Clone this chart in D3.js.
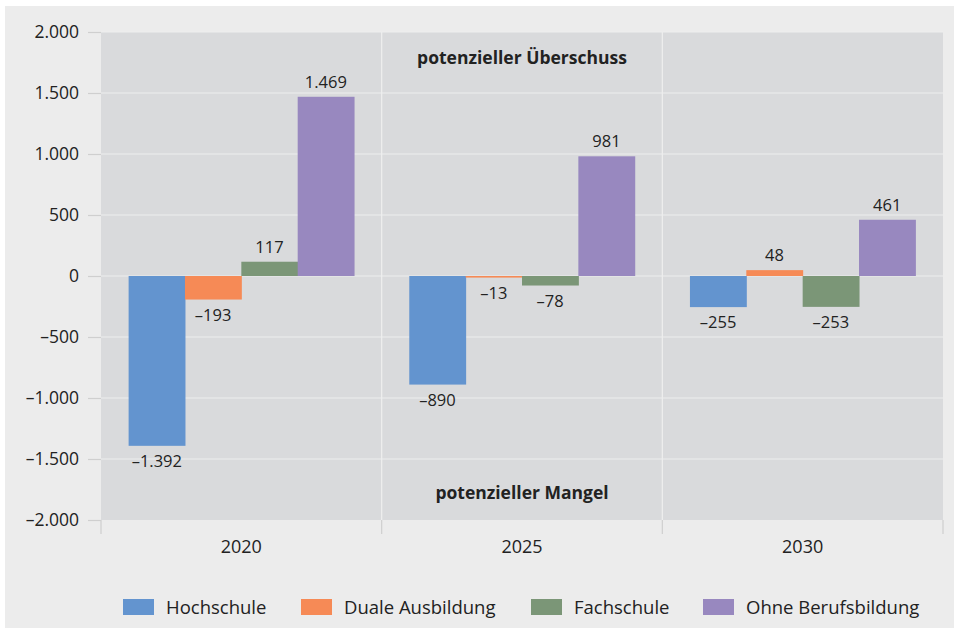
<!DOCTYPE html>
<html>
<head>
  <meta charset="utf-8">
  <script src="https://d3js.org/d3.v7.min.js"></script>
  <style>
    html, body { margin: 0; padding: 0; background: #fff; }
    svg { display: block; font-family: "Open Sans", sans-serif; }
  </style>
</head>
<body>
  <div id="chart"></div>
  <script>
    var years = ["2020", "2025", "2030"];
    var seriesNames = ["Hochschule", "Duale Ausbildung", "Fachschule", "Ohne Berufsbildung"];
    var hochschule = [-1392, -890, -255];
    var dualeAusbildung = [-193, -13, 48];
    var fachschule = [117, -78, -253];
    var ohneBerufsbildung = [1469, 981, 461];
    var yTicks = [-2000, -1500, -1000, -500, 0, 500, 1000, 1500, 2000];
    var colors = ["#6394cf", "#f68a56", "#7b9677", "#9888bf"];

    var series = [hochschule, dualeAusbildung, fachschule, ohneBerufsbildung];

    var width = 955, height = 629;
    var margin = { top: 32, right: 12, bottom: 109, left: 101 };

    var locale = d3.formatLocale({ decimal: ",", thousands: ".", grouping: [3], currency: ["", " €"], minus: "\u2013" });
    var fmt = locale.format(",d");

    var svg = d3.select("#chart").append("svg")
      .attr("width", width)
      .attr("height", height);

    // outer panel
    svg.append("rect")
      .attr("x", 5).attr("y", 6)
      .attr("width", 949).attr("height", 622)
      .attr("fill", "#ececec");

    var x0 = d3.scaleBand()
      .domain(years)
      .range([margin.left, width - margin.right]);

    var x1 = d3.scaleBand()
      .domain(seriesNames)
      .range([0, x0.bandwidth()])
      .paddingOuter(0.49)
      .paddingInner(0);

    var y = d3.scaleLinear()
      .domain([-2000, 2000])
      .range([height - margin.bottom, margin.top]);

    // plot background
    svg.append("rect")
      .attr("x", margin.left).attr("y", margin.top)
      .attr("width", width - margin.right - margin.left)
      .attr("height", y(-2000) - y(2000))
      .attr("fill", "#d9dadc");

    // horizontal gridlines + y ticks
    svg.append("g")
      .selectAll("line")
      .data(yTicks.slice(1))
      .join("line")
      .attr("x1", margin.left).attr("x2", width - margin.right)
      .attr("y1", d => y(d)).attr("y2", d => y(d))
      .attr("stroke", "#eeeeee").attr("stroke-width", 1.2);

    var yAxis = svg.append("g")
      .attr("transform", "translate(" + margin.left + ",0)")
      .call(d3.axisLeft(y).tickValues(yTicks).tickFormat(fmt).tickSize(13).tickPadding(9));
    yAxis.select(".domain").remove();
    yAxis.selectAll(".tick line").attr("stroke", "#cfcfcf").attr("stroke-width", 1.2);
    yAxis.selectAll(".tick text")
      .attr("fill", "#222").style("font-size", "17.5px").style("font-family", "Open Sans, sans-serif");

    // vertical separators between categories
    var bounds = years.map(d => x0(d)).concat([x0(years[years.length - 1]) + x0.bandwidth()]);
    svg.append("g")
      .selectAll("line")
      .data(bounds.slice(1, -1))
      .join("line")
      .attr("x1", d => d).attr("x2", d => d)
      .attr("y1", margin.top).attr("y2", y(-2000))
      .attr("stroke", "#eeeeee").attr("stroke-width", 1.2);

    svg.append("g")
      .selectAll("line")
      .data(bounds)
      .join("line")
      .attr("x1", d => d).attr("x2", d => d)
      .attr("y1", y(-2000)).attr("y2", y(-2000) + 14)
      .attr("stroke", "#cfcfcf").attr("stroke-width", 1.2);

    // x labels
    svg.append("g")
      .selectAll("text")
      .data(years)
      .join("text")
      .attr("x", d => x0(d) + x0.bandwidth() / 2)
      .attr("y", y(-2000) + 33)
      .attr("text-anchor", "middle")
      .attr("fill", "#222")
      .style("font-size", "18px")
      .text(d => d);

    // bars
    var groups = svg.append("g")
      .selectAll("g")
      .data(years)
      .join("g")
      .attr("transform", d => "translate(" + x0(d) + ",0)");

    groups.each(function (year, yi) {
      var g = d3.select(this);
      seriesNames.forEach(function (name, si) {
        var v = series[si][yi];
        g.append("rect")
          .attr("x", x1(name))
          .attr("width", x1.bandwidth() + 0.5)
          .attr("y", y(Math.max(0, v)))
          .attr("height", Math.abs(y(v) - y(0)))
          .attr("fill", colors[si]);
        g.append("text")
          .attr("x", x1(name) + x1.bandwidth() / 2)
          .attr("y", v >= 0 ? y(v) - 9 : y(v) + 21)
          .attr("text-anchor", "middle")
          .attr("fill", "#222")
          .style("font-size", "16.5px")
          .text(fmt(v));
      });
    });

    // annotations
    var cx = (margin.left + width - margin.right) / 2;
    svg.append("text")
      .attr("x", cx).attr("y", 64)
      .attr("text-anchor", "middle")
      .attr("fill", "#222")
      .style("font-size", "17.5px").style("font-weight", "bold")
      .text("potenzieller Überschuss");
    svg.append("text")
      .attr("x", cx).attr("y", 499)
      .attr("text-anchor", "middle")
      .attr("fill", "#222")
      .style("font-size", "17.5px").style("font-weight", "bold")
      .text("potenzieller Mangel");

    // legend
    var legendX = [123, 301, 531, 703];
    var legend = svg.append("g")
      .selectAll("g")
      .data(seriesNames)
      .join("g")
      .attr("transform", (d, i) => "translate(" + legendX[i] + ",599)");
    legend.append("rect")
      .attr("width", 31).attr("height", 16)
      .attr("fill", (d, i) => colors[i]);
    legend.append("text")
      .attr("x", 43).attr("y", 14.5)
      .attr("fill", "#222")
      .style("font-size", "18.5px")
      .text(d => d);
  </script>
</body>
</html>
